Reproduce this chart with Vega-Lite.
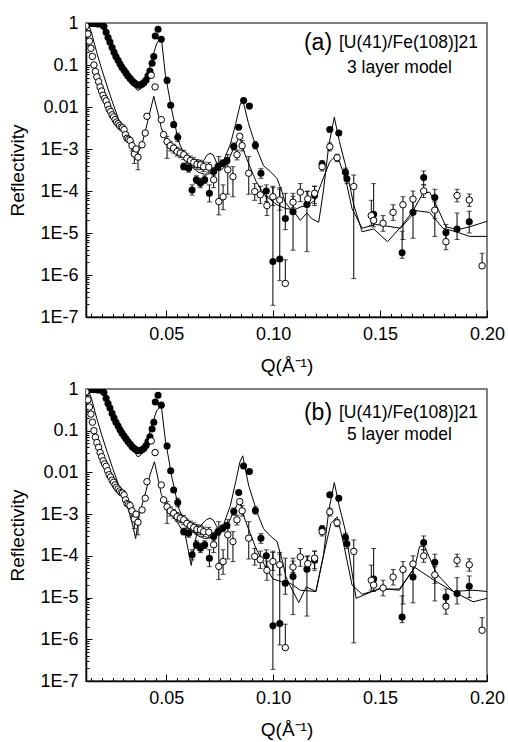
{
"$schema": "https://vega.github.io/schema/vega-lite/v6.json",
"padding": {"left": 8, "top": 13, "right": 0, "bottom": 0},
"spacing": 3,
"config": {
  "font": "Liberation Sans",
  "view": {"stroke": "#555555", "strokeWidth": 1.5},
  "axis": {"labelFontSize": 18, "titleFontSize": 19, "titleFontWeight": "normal", "labelColor": "black", "titleColor": "black", "domainColor": "black", "tickColor": "black", "grid": false, "domainWidth": 1.5, "tickWidth": 1, "labelFont": "Liberation Sans", "titleFont": "Liberation Sans"},
  "text": {"font": "Liberation Sans"}
},
"datasets": {
"pts": [
{"s":"f","q":0.0125,"r":0.97},{"s":"f","q":0.0134,"r":0.98},{"s":"f","q":0.0144,"r":0.98},{"s":"f","q":0.0153,"r":0.97},{"s":"f","q":0.0162,"r":0.97},{"s":"f","q":0.0172,"r":0.96},{"s":"f","q":0.0181,"r":0.95},{"s":"f","q":0.0191,"r":0.95},{"s":"f","q":0.0200,"r":0.93},{"s":"f","q":0.0209,"r":0.82},{"s":"f","q":0.0219,"r":0.6},{"s":"f","q":0.0228,"r":0.45},{"s":"f","q":0.0237,"r":0.35},{"s":"f","q":0.0247,"r":0.26},{"s":"f","q":0.0256,"r":0.2},{"s":"f","q":0.0265,"r":0.16},{"s":"f","q":0.0275,"r":0.13},{"s":"f","q":0.0284,"r":0.105},{"s":"f","q":0.0293,"r":0.088},{"s":"f","q":0.0303,"r":0.075},{"s":"f","q":0.0312,"r":0.064},{"s":"f","q":0.0321,"r":0.055},{"s":"f","q":0.0331,"r":0.048},{"s":"f","q":0.0340,"r":0.042},{"s":"f","q":0.0349,"r":0.038},{"s":"f","q":0.0359,"r":0.035},{"s":"f","q":0.0368,"r":0.033},{"s":"f","q":0.0378,"r":0.033},{"s":"f","q":0.0387,"r":0.035},{"s":"f","q":0.0396,"r":0.038},{"s":"f","q":0.0406,"r":0.044},{"s":"f","q":0.0415,"r":0.055},{"s":"f","q":0.0424,"r":0.072},{"s":"f","q":0.0434,"r":0.11},{"s":"f","q":0.0442,"r":0.16},{"s":"f","q":0.0449,"r":0.49},{"s":"f","q":0.0462,"r":0.71},{"s":"f","q":0.0477,"r":0.41},{"s":"f","q":0.0504,"r":0.043},{"s":"f","q":0.0521,"r":0.011},{"s":"f","q":0.0535,"r":0.0038},
{"s":"f","q":0.0554,"r":0.0019,"lo":0.0015,"hi":0.0024},
{"s":"f","q":0.0582,"r":0.00038,"lo":0.00032,"hi":0.00046},
{"s":"f","q":0.0605,"r":0.00035,"lo":0.00028,"hi":0.00044},
{"s":"f","q":0.0621,"r":0.000106,"lo":0.00008,"hi":0.00014},
{"s":"f","q":0.0641,"r":0.000185,"lo":0.00015,"hi":0.00023},
{"s":"f","q":0.0660,"r":0.000153,"lo":0.00012,"hi":0.0002},
{"s":"f","q":0.0680,"r":0.000185,"lo":0.00015,"hi":0.00023},
{"s":"f","q":0.0702,"r":0.000088,"lo":0.000055,"hi":0.00014},
{"s":"f","q":0.0722,"r":0.00029,"lo":0.00023,"hi":0.00036},
{"s":"f","q":0.0742,"r":0.00038,"lo":0.00031,"hi":0.00046},
{"s":"f","q":0.0764,"r":0.00046,"lo":0.00038,"hi":0.00055},
{"s":"f","q":0.0784,"r":0.00053,"lo":0.00045,"hi":0.00062},
{"s":"f","q":0.0816,"r":0.00115,"lo":0.00095,"hi":0.0014},
{"s":"f","q":0.0839,"r":0.0033},
{"s":"f","q":0.0862,"r":0.0142},
{"s":"f","q":0.0889,"r":0.0105},
{"s":"f","q":0.0917,"r":0.00122,"lo":0.001,"hi":0.0015},
{"s":"f","q":0.0943,"r":0.000265,"lo":0.0002,"hi":0.00034},
{"s":"f","q":0.0968,"r":0.0001,"lo":0.000056,"hi":0.00014},
{"s":"f","q":0.0999,"r":0.0000021,"lo":0.00000019,"hi":0.00013},
{"s":"f","q":0.1031,"r":0.0000024,"lo":0.00000073,"hi":0.00012},
{"s":"f","q":0.1057,"r":0.000022,"lo":0.000012,"hi":0.000088},
{"s":"f","q":0.1093,"r":0.000032,"lo":0.0000039,"hi":0.000088},
{"s":"f","q":0.1158,"r":0.000048,"lo":0.0000036,"hi":0.000097},
{"s":"f","q":0.1194,"r":0.000078,"lo":0.000045,"hi":0.00013},
{"s":"f","q":0.1229,"r":0.00044,"lo":0.00036,"hi":0.00053},
{"s":"f","q":0.1265,"r":0.0029},
{"s":"f","q":0.1307,"r":0.0024},
{"s":"f","q":0.1338,"r":0.00028,"lo":0.00022,"hi":0.00035},
{"s":"f","q":0.1345,"r":0.000195,"lo":0.00015,"hi":0.00025},
{"s":"f","q":0.1470,"r":0.000028,"lo":0.000022,"hi":0.00015},
{"s":"f","q":0.1603,"r":0.0000034,"lo":0.0000025,"hi":0.000011},
{"s":"f","q":0.1654,"r":0.000031,"lo":0.0000075,"hi":0.000056},
{"s":"f","q":0.1704,"r":0.00021,"lo":0.00014,"hi":0.0003},
{"s":"f","q":0.1756,"r":0.00007,"lo":0.0000083,"hi":0.00011},
{"s":"f","q":0.1808,"r":0.0000103,"lo":0.0000065,"hi":0.000016},
{"s":"f","q":0.1860,"r":0.0000125,"lo":0.000007,"hi":0.00003},
{"s":"f","q":0.1917,"r":0.0000186,"lo":0.00001,"hi":0.000033},
{"s":"o","q":0.0125,"r":0.85},{"s":"o","q":0.0134,"r":0.55},{"s":"o","q":0.0141,"r":0.37},{"s":"o","q":0.0148,"r":0.25},{"s":"o","q":0.0155,"r":0.16},{"s":"o","q":0.0162,"r":0.1},{"s":"o","q":0.0169,"r":0.07},{"s":"o","q":0.0176,"r":0.052},{"s":"o","q":0.0184,"r":0.04},{"s":"o","q":0.0191,"r":0.03},{"s":"o","q":0.0198,"r":0.024},{"s":"o","q":0.0205,"r":0.019},{"s":"o","q":0.0212,"r":0.016},{"s":"o","q":0.0219,"r":0.014},{"s":"o","q":0.0226,"r":0.011},{"s":"o","q":0.0233,"r":0.0088},{"s":"o","q":0.0240,"r":0.0078},{"s":"o","q":0.0247,"r":0.0065},{"s":"o","q":0.0254,"r":0.0058},{"s":"o","q":0.0261,"r":0.005},{"s":"o","q":0.0268,"r":0.0044},{"s":"o","q":0.0275,"r":0.004},{"s":"o","q":0.0282,"r":0.0036},{"s":"o","q":0.0289,"r":0.0033},{"s":"o","q":0.0296,"r":0.0032},{"s":"o","q":0.0303,"r":0.0029},{"s":"o","q":0.0310,"r":0.0022},{"s":"o","q":0.0317,"r":0.0018},{"s":"o","q":0.0324,"r":0.0017},{"s":"o","q":0.0331,"r":0.0016},
{"s":"o","q":0.0340,"r":0.0012,"lo":0.0009,"hi":0.0015},
{"s":"o","q":0.0351,"r":0.00076,"lo":0.00045,"hi":0.0011},
{"s":"o","q":0.0359,"r":0.001},
{"s":"o","q":0.0368,"r":0.00064,"lo":0.00032,"hi":0.00105},
{"s":"o","q":0.0387,"r":0.00126},
{"s":"o","q":0.0402,"r":0.0024},
{"s":"o","q":0.0410,"r":0.006},
{"s":"o","q":0.0430,"r":0.057},
{"s":"o","q":0.0448,"r":0.03},
{"s":"o","q":0.0477,"r":0.005},
{"s":"o","q":0.0488,"r":0.0022},
{"s":"o","q":0.0504,"r":0.0015,"lo":0.0006,"hi":0.002},
{"s":"o","q":0.0519,"r":0.0012,"lo":0.0009,"hi":0.0015},
{"s":"o","q":0.0535,"r":0.00105,"lo":0.0008,"hi":0.0013},
{"s":"o","q":0.0551,"r":0.00087,"lo":0.00068,"hi":0.0011},
{"s":"o","q":0.0566,"r":0.0008,"lo":0.00062,"hi":0.001},
{"s":"o","q":0.0582,"r":0.00073,"lo":0.00056,"hi":0.00093},
{"s":"o","q":0.0597,"r":0.0006,"lo":0.00046,"hi":0.00077},
{"s":"o","q":0.0613,"r":0.00053,"lo":0.0004,"hi":0.00068},
{"s":"o","q":0.0629,"r":0.00048,"lo":0.00036,"hi":0.00062},
{"s":"o","q":0.0644,"r":0.00043,"lo":0.00033,"hi":0.00056},
{"s":"o","q":0.0660,"r":0.00042,"lo":0.00032,"hi":0.00054},
{"s":"o","q":0.0675,"r":0.00038,"lo":0.00029,"hi":0.00049},
{"s":"o","q":0.0699,"r":0.00037,"lo":0.00028,"hi":0.00048},
{"s":"o","q":0.0722,"r":0.000185,"lo":0.00012,"hi":0.00028},
{"s":"o","q":0.0746,"r":0.000056,"lo":0.000027,"hi":0.00066},
{"s":"o","q":0.0766,"r":0.000073,"lo":0.000036,"hi":0.00014},
{"s":"o","q":0.0788,"r":0.00032,"lo":0.000084,"hi":0.00074},
{"s":"o","q":0.0812,"r":0.00022,"lo":0.000073,"hi":0.00038},
{"s":"o","q":0.0831,"r":0.00073,"lo":0.00055,"hi":0.00095},
{"s":"o","q":0.0844,"r":0.002},
{"s":"o","q":0.0855,"r":0.0012,"lo":0.0009,"hi":0.0016},
{"s":"o","q":0.0886,"r":0.000265,"lo":0.000084,"hi":0.00066},
{"s":"o","q":0.0914,"r":0.000097,"lo":0.00006,"hi":0.00015},
{"s":"o","q":0.0940,"r":0.000081,"lo":0.00005,"hi":0.00013},
{"s":"o","q":0.0971,"r":0.000045,"lo":0.000026,"hi":0.000075},
{"s":"o","q":0.0999,"r":0.000073,"lo":0.000045,"hi":0.00012},
{"s":"o","q":0.1031,"r":0.000061,"lo":0.000035,"hi":0.00011},
{"s":"o","q":0.1057,"r":0.00000063,"lo":0.00000063,"hi":0.0000023},
{"s":"o","q":0.1093,"r":0.000054,"lo":0.00004,"hi":0.000075},
{"s":"o","q":0.1127,"r":0.000094,"lo":0.000056,"hi":0.00015},
{"s":"o","q":0.1162,"r":0.000065,"lo":0.000045,"hi":0.0001},
{"s":"o","q":0.1194,"r":0.000088,"lo":0.00005,"hi":0.00013},
{"s":"o","q":0.1229,"r":0.00038,"lo":0.0003,"hi":0.00048},
{"s":"o","q":0.1265,"r":0.00113,"lo":0.0009,"hi":0.0014},
{"s":"o","q":0.1299,"r":0.00062,"lo":0.0005,"hi":0.00075},
{"s":"o","q":0.1377,"r":0.000128,"lo":0.00000082,"hi":0.00024},
{"s":"o","q":0.1459,"r":0.000026,"lo":0.000015,"hi":0.00006},
{"s":"o","q":0.1470,"r":0.00002,"lo":0.000014,"hi":0.000028},
{"s":"o","q":0.1514,"r":0.000017,"lo":0.000011,"hi":0.000026},
{"s":"o","q":0.1561,"r":0.000031,"lo":0.00002,"hi":0.000047},
{"s":"o","q":0.1607,"r":0.000047,"lo":0.000007,"hi":0.000073},
{"s":"o","q":0.1654,"r":0.000064,"lo":0.000032,"hi":0.0001},
{"s":"o","q":0.1704,"r":0.0001,"lo":0.00007,"hi":0.00014},
{"s":"o","q":0.1756,"r":0.000035,"lo":0.000022,"hi":0.000055},
{"s":"o","q":0.1808,"r":0.0000062,"lo":0.000004,"hi":0.000009},
{"s":"o","q":0.1860,"r":0.000078,"lo":0.000055,"hi":0.00011},
{"s":"o","q":0.1917,"r":0.000061,"lo":0.000043,"hi":0.000085},
{"s":"o","q":0.1977,"r":0.00000165,"lo":0.00000165,"hi":0.0000033}
],
"fits": [
{"p":"a","s":"f","q":0.0125,"r":1},{"p":"a","s":"f","q":0.0205,"r":1},{"p":"a","s":"f","q":0.0215,"r":0.8},{"p":"a","s":"f","q":0.0235,"r":0.35},{"p":"a","s":"f","q":0.0255,"r":0.18},{"p":"a","s":"f","q":0.0275,"r":0.11},{"p":"a","s":"f","q":0.0295,"r":0.075},{"p":"a","s":"f","q":0.0315,"r":0.052},{"p":"a","s":"f","q":0.0335,"r":0.038},{"p":"a","s":"f","q":0.0355,"r":0.029},{"p":"a","s":"f","q":0.0365,"r":0.025},{"p":"a","s":"f","q":0.0378,"r":0.026},{"p":"a","s":"f","q":0.0395,"r":0.033},{"p":"a","s":"f","q":0.041,"r":0.05},{"p":"a","s":"f","q":0.043,"r":0.12},{"p":"a","s":"f","q":0.0455,"r":0.32},{"p":"a","s":"f","q":0.0477,"r":0.46},{"p":"a","s":"f","q":0.0496,"r":0.059},{"p":"a","s":"f","q":0.0527,"r":0.008},{"p":"a","s":"f","q":0.0558,"r":0.0015},{"p":"a","s":"f","q":0.0589,"r":0.00066},{"p":"a","s":"f","q":0.062,"r":0.00038},{"p":"a","s":"f","q":0.065,"r":0.00028},{"p":"a","s":"f","q":0.068,"r":0.00025},{"p":"a","s":"f","q":0.071,"r":0.00026},{"p":"a","s":"f","q":0.074,"r":0.00032},{"p":"a","s":"f","q":0.077,"r":0.00055},{"p":"a","s":"f","q":0.08,"r":0.0013},{"p":"a","s":"f","q":0.0825,"r":0.004},{"p":"a","s":"f","q":0.0845,"r":0.011},{"p":"a","s":"f","q":0.0858,"r":0.015},{"p":"a","s":"f","q":0.0885,"r":0.004},{"p":"a","s":"f","q":0.0925,"r":0.00096},{"p":"a","s":"f","q":0.0955,"r":0.0004},{"p":"a","s":"f","q":0.0987,"r":0.00029},{"p":"a","s":"f","q":0.1018,"r":0.0002},{"p":"a","s":"f","q":0.104,"r":0.0001},{"p":"a","s":"f","q":0.1055,"r":0.000055},{"p":"a","s":"f","q":0.108,"r":0.000038},{"p":"a","s":"f","q":0.1096,"r":0.000033},{"p":"a","s":"f","q":0.1127,"r":0.00002},{"p":"a","s":"f","q":0.1158,"r":0.00003},{"p":"a","s":"f","q":0.118,"r":0.000022},{"p":"a","s":"f","q":0.1213,"r":0.000018},{"p":"a","s":"f","q":0.1235,"r":0.0001},{"p":"a","s":"f","q":0.126,"r":0.0012},{"p":"a","s":"f","q":0.1286,"r":0.0057},{"p":"a","s":"f","q":0.131,"r":0.0015},{"p":"a","s":"f","q":0.1338,"r":0.00042},{"p":"a","s":"f","q":0.1377,"r":0.000047},{"p":"a","s":"f","q":0.1416,"r":0.0000107},{"p":"a","s":"f","q":0.147,"r":0.0000125},{"p":"a","s":"f","q":0.1535,"r":0.0000062},{"p":"a","s":"f","q":0.1597,"r":0.000014},{"p":"a","s":"f","q":0.1651,"r":0.000032},{"p":"a","s":"f","q":0.17,"r":0.000088},{"p":"a","s":"f","q":0.1732,"r":0.000094},{"p":"a","s":"f","q":0.1762,"r":0.000047},{"p":"a","s":"f","q":0.1809,"r":0.000014},{"p":"a","s":"f","q":0.1864,"r":0.000012},{"p":"a","s":"f","q":0.1918,"r":0.000014},{"p":"a","s":"f","q":0.2,"r":0.000019},
{"p":"a","s":"o","q":0.0125,"r":1},{"p":"a","s":"o","q":0.0135,"r":1},{"p":"a","s":"o","q":0.015,"r":0.6},{"p":"a","s":"o","q":0.0175,"r":0.2},{"p":"a","s":"o","q":0.02,"r":0.075},{"p":"a","s":"o","q":0.0225,"r":0.03},{"p":"a","s":"o","q":0.025,"r":0.0125},{"p":"a","s":"o","q":0.0275,"r":0.0055},{"p":"a","s":"o","q":0.03,"r":0.0027},{"p":"a","s":"o","q":0.0325,"r":0.0015},{"p":"a","s":"o","q":0.035,"r":0.0009},{"p":"a","s":"o","q":0.0363,"r":0.00075},{"p":"a","s":"o","q":0.0385,"r":0.0012},{"p":"a","s":"o","q":0.0405,"r":0.003},{"p":"a","s":"o","q":0.0425,"r":0.008},{"p":"a","s":"o","q":0.0442,"r":0.018},{"p":"a","s":"o","q":0.0465,"r":0.006},{"p":"a","s":"o","q":0.0477,"r":0.0032},{"p":"a","s":"o","q":0.0504,"r":0.0014},{"p":"a","s":"o","q":0.053,"r":0.001},{"p":"a","s":"o","q":0.056,"r":0.00075},{"p":"a","s":"o","q":0.06,"r":0.00055},{"p":"a","s":"o","q":0.064,"r":0.00045},{"p":"a","s":"o","q":0.0665,"r":0.00045},{"p":"a","s":"o","q":0.0678,"r":0.00056},{"p":"a","s":"o","q":0.069,"r":0.00071},{"p":"a","s":"o","q":0.0705,"r":0.00079},{"p":"a","s":"o","q":0.072,"r":0.00072},{"p":"a","s":"o","q":0.0735,"r":0.00048},{"p":"a","s":"o","q":0.0753,"r":0.00031},{"p":"a","s":"o","q":0.078,"r":0.0004},{"p":"a","s":"o","q":0.081,"r":0.0009},{"p":"a","s":"o","q":0.0843,"r":0.002},{"p":"a","s":"o","q":0.0866,"r":0.0008},{"p":"a","s":"o","q":0.0888,"r":0.00042},{"p":"a","s":"o","q":0.092,"r":0.00017},{"p":"a","s":"o","q":0.096,"r":0.00008},{"p":"a","s":"o","q":0.1018,"r":0.000047},{"p":"a","s":"o","q":0.106,"r":0.000038},{"p":"a","s":"o","q":0.11,"r":0.000036},{"p":"a","s":"o","q":0.113,"r":0.000042},{"p":"a","s":"o","q":0.116,"r":0.000045},{"p":"a","s":"o","q":0.1195,"r":0.00006},{"p":"a","s":"o","q":0.1225,"r":0.00015},{"p":"a","s":"o","q":0.1265,"r":0.0005},{"p":"a","s":"o","q":0.1299,"r":0.00073},{"p":"a","s":"o","q":0.1325,"r":0.0003},{"p":"a","s":"o","q":0.1338,"r":0.0002},{"p":"a","s":"o","q":0.1369,"r":0.000038},{"p":"a","s":"o","q":0.1416,"r":0.000013},{"p":"a","s":"o","q":0.1479,"r":0.000016},{"p":"a","s":"o","q":0.1596,"r":0.000013},{"p":"a","s":"o","q":0.1668,"r":0.000034},{"p":"a","s":"o","q":0.1731,"r":0.000031},{"p":"a","s":"o","q":0.1794,"r":0.000013},{"p":"a","s":"o","q":0.1856,"r":0.0000107},{"p":"a","s":"o","q":0.1918,"r":0.0000083},{"p":"a","s":"o","q":0.2,"r":0.0000083},
{"p":"b","s":"f","q":0.0125,"r":1},{"p":"b","s":"f","q":0.0205,"r":1},{"p":"b","s":"f","q":0.0215,"r":0.8},{"p":"b","s":"f","q":0.0235,"r":0.35},{"p":"b","s":"f","q":0.0255,"r":0.18},{"p":"b","s":"f","q":0.0275,"r":0.11},{"p":"b","s":"f","q":0.0295,"r":0.075},{"p":"b","s":"f","q":0.0315,"r":0.052},{"p":"b","s":"f","q":0.0335,"r":0.038},{"p":"b","s":"f","q":0.0355,"r":0.029},{"p":"b","s":"f","q":0.0365,"r":0.024},{"p":"b","s":"f","q":0.0378,"r":0.025},{"p":"b","s":"f","q":0.0395,"r":0.033},{"p":"b","s":"f","q":0.041,"r":0.05},{"p":"b","s":"f","q":0.043,"r":0.12},{"p":"b","s":"f","q":0.0455,"r":0.3},{"p":"b","s":"f","q":0.0477,"r":0.4},{"p":"b","s":"f","q":0.0496,"r":0.06},{"p":"b","s":"f","q":0.0527,"r":0.0075},{"p":"b","s":"f","q":0.0558,"r":0.0014},{"p":"b","s":"f","q":0.0589,"r":0.0006},{"p":"b","s":"f","q":0.062,"r":0.0004},{"p":"b","s":"f","q":0.065,"r":0.0003},{"p":"b","s":"f","q":0.068,"r":0.00026},{"p":"b","s":"f","q":0.071,"r":0.00027},{"p":"b","s":"f","q":0.074,"r":0.00034},{"p":"b","s":"f","q":0.077,"r":0.0006},{"p":"b","s":"f","q":0.08,"r":0.0016},{"p":"b","s":"f","q":0.0825,"r":0.006},{"p":"b","s":"f","q":0.0845,"r":0.018},{"p":"b","s":"f","q":0.0858,"r":0.025},{"p":"b","s":"f","q":0.0885,"r":0.005},{"p":"b","s":"f","q":0.0925,"r":0.0011},{"p":"b","s":"f","q":0.0955,"r":0.00045},{"p":"b","s":"f","q":0.0987,"r":0.0003},{"p":"b","s":"f","q":0.1018,"r":0.00022},{"p":"b","s":"f","q":0.1045,"r":0.00007},{"p":"b","s":"f","q":0.106,"r":0.000031},{"p":"b","s":"f","q":0.109,"r":0.000015},{"p":"b","s":"f","q":0.112,"r":0.0000076},{"p":"b","s":"f","q":0.1155,"r":0.000018},{"p":"b","s":"f","q":0.12,"r":0.000014},{"p":"b","s":"f","q":0.1235,"r":0.0001},{"p":"b","s":"f","q":0.126,"r":0.0012},{"p":"b","s":"f","q":0.1286,"r":0.0057},{"p":"b","s":"f","q":0.131,"r":0.0015},{"p":"b","s":"f","q":0.1338,"r":0.0004},{"p":"b","s":"f","q":0.1388,"r":0.0000096},{"p":"b","s":"f","q":0.1498,"r":0.0000166},{"p":"b","s":"f","q":0.159,"r":0.000015},{"p":"b","s":"f","q":0.1662,"r":0.000053},{"p":"b","s":"f","q":0.1685,"r":0.00017},{"p":"b","s":"f","q":0.1708,"r":0.00017},{"p":"b","s":"f","q":0.1763,"r":0.000038},{"p":"b","s":"f","q":0.1842,"r":0.000014},{"p":"b","s":"f","q":0.1935,"r":0.0000079},{"p":"b","s":"f","q":0.2,"r":0.0000096},
{"p":"b","s":"o","q":0.0125,"r":1},{"p":"b","s":"o","q":0.0135,"r":1},{"p":"b","s":"o","q":0.015,"r":0.6},{"p":"b","s":"o","q":0.0175,"r":0.2},{"p":"b","s":"o","q":0.02,"r":0.075},{"p":"b","s":"o","q":0.0225,"r":0.03},{"p":"b","s":"o","q":0.025,"r":0.0125},{"p":"b","s":"o","q":0.0275,"r":0.0055},{"p":"b","s":"o","q":0.03,"r":0.0025},{"p":"b","s":"o","q":0.0325,"r":0.0012},{"p":"b","s":"o","q":0.0345,"r":0.0005},{"p":"b","s":"o","q":0.0357,"r":0.00026},{"p":"b","s":"o","q":0.0375,"r":0.001},{"p":"b","s":"o","q":0.0405,"r":0.0035},{"p":"b","s":"o","q":0.0425,"r":0.009},{"p":"b","s":"o","q":0.0445,"r":0.018},{"p":"b","s":"o","q":0.0465,"r":0.006},{"p":"b","s":"o","q":0.0477,"r":0.003},{"p":"b","s":"o","q":0.0504,"r":0.0014},{"p":"b","s":"o","q":0.053,"r":0.0009},{"p":"b","s":"o","q":0.056,"r":0.00055},{"p":"b","s":"o","q":0.059,"r":0.0003},{"p":"b","s":"o","q":0.0617,"r":0.000059},{"p":"b","s":"o","q":0.0645,"r":0.0004},{"p":"b","s":"o","q":0.0668,"r":0.00058},{"p":"b","s":"o","q":0.0688,"r":0.00074},{"p":"b","s":"o","q":0.0705,"r":0.0008},{"p":"b","s":"o","q":0.072,"r":0.00072},{"p":"b","s":"o","q":0.0735,"r":0.00052},{"p":"b","s":"o","q":0.0753,"r":0.00035},{"p":"b","s":"o","q":0.078,"r":0.00045},{"p":"b","s":"o","q":0.081,"r":0.001},{"p":"b","s":"o","q":0.0843,"r":0.0022},{"p":"b","s":"o","q":0.0866,"r":0.0008},{"p":"b","s":"o","q":0.0888,"r":0.0004},{"p":"b","s":"o","q":0.092,"r":0.00015},{"p":"b","s":"o","q":0.096,"r":0.00006},{"p":"b","s":"o","q":0.0999,"r":0.000028},{"p":"b","s":"o","q":0.104,"r":0.000024},{"p":"b","s":"o","q":0.108,"r":0.000022},{"p":"b","s":"o","q":0.1127,"r":0.000015},{"p":"b","s":"o","q":0.12,"r":0.000014},{"p":"b","s":"o","q":0.1235,"r":0.0001},{"p":"b","s":"o","q":0.127,"r":0.0006},{"p":"b","s":"o","q":0.1299,"r":0.00086},{"p":"b","s":"o","q":0.1325,"r":0.00025},{"p":"b","s":"o","q":0.1369,"r":0.00002},{"p":"b","s":"o","q":0.1416,"r":0.000012},{"p":"b","s":"o","q":0.1498,"r":0.000016},{"p":"b","s":"o","q":0.159,"r":0.000016},{"p":"b","s":"o","q":0.1662,"r":0.000053},{"p":"b","s":"o","q":0.1753,"r":0.000026},{"p":"b","s":"o","q":0.1842,"r":0.000014},{"p":"b","s":"o","q":0.1935,"r":0.000015},{"p":"b","s":"o","q":0.2,"r":0.000014}
]
},
"vconcat": [
{
"width": 401, "height": 294,
"resolve": {"axis": {"x": "independent", "y": "independent"}},
"layer": [
{"data": {"name": "fits"}, "transform": [{"filter": "datum.p == 'a'"}],
 "mark": {"type": "line", "color": "black", "strokeWidth": 1, "clip": true},
 "encoding": {
  "x": {"field": "q", "type": "quantitative", "scale": {"domain": [0.0125, 0.2], "nice": false, "zero": false},
        "axis": {"orient": "bottom", "values": [0.05, 0.1, 0.15, 0.2], "format": ".2f", "tickSize": -7, "labelPadding": 15, "title": "Q(Å⁻¹)", "titlePadding": 13, "labelFlush": false, "labelOverlap": false}},
  "y": {"field": "r", "type": "quantitative", "scale": {"type": "log", "domain": [1e-7, 1], "nice": false},
        "axis": {"orient": "left", "values": [1e-7, 1e-6, 1e-5, 1e-4, 0.001, 0.01, 0.1, 1], "labelExpr": "datum.value == 1 ? '1' : datum.value == 0.1 ? '0.1' : datum.value == 0.01 ? '0.01' : '1E-' + round(-log(datum.value)/LN10)", "tickSize": -6, "labelPadding": 14, "title": "Reflectivity", "titlePadding": 12, "labelFlush": false, "labelOverlap": false}},
  "detail": {"field": "s"}
 }},
{"data": {"name": "pts"}, "mark": {"type": "point", "opacity": 0},
 "encoding": {
  "x": {"field": "q", "type": "quantitative", "axis": {"orient": "bottom", "values": [0.015,0.02,0.025,0.03,0.035,0.04,0.045,0.055,0.06,0.065,0.07,0.075,0.08,0.085,0.09,0.095,0.105,0.11,0.115,0.12,0.125,0.13,0.135,0.14,0.145,0.155,0.16,0.165,0.17,0.175,0.18,0.185,0.19,0.195], "tickSize": -3.5, "labels": false, "domain": false, "title": null}},
  "y": {"field": "r", "type": "quantitative", "axis": {"orient": "left", "values": [2e-7,3e-7,4e-7,5e-7,6e-7,7e-7,8e-7,9e-7,2e-6,3e-6,4e-6,5e-6,6e-6,7e-6,8e-6,9e-6,2e-5,3e-5,4e-5,5e-5,6e-5,7e-5,8e-5,9e-5,2e-4,3e-4,4e-4,5e-4,6e-4,7e-4,8e-4,9e-4,0.002,0.003,0.004,0.005,0.006,0.007,0.008,0.009,0.02,0.03,0.04,0.05,0.06,0.07,0.08,0.09,0.2,0.3,0.4,0.5,0.6,0.7,0.8,0.9], "tickSize": -3, "labels": false, "domain": false, "title": null}}
 }},
{"data": {"name": "pts"}, "transform": [{"filter": "isValid(datum.lo)"}],
 "mark": {"type": "errorbar", "ticks": true, "color": "black"},
 "encoding": {"x": {"field": "q", "type": "quantitative", "axis": null}, "y": {"field": "lo", "type": "quantitative", "axis": null}, "y2": {"field": "hi"}}},
{"data": {"name": "pts"}, "transform": [{"filter": "datum.s == 'f'"}],
 "mark": {"type": "circle", "color": "black", "size": 50, "opacity": 1, "clip": true},
 "encoding": {"x": {"field": "q", "type": "quantitative", "axis": null}, "y": {"field": "r", "type": "quantitative", "axis": null}}},
{"data": {"name": "pts"}, "transform": [{"filter": "datum.s == 'o'"}],
 "mark": {"type": "point", "shape": "circle", "filled": true, "fill": "white", "stroke": "black", "strokeWidth": 1, "size": 42, "opacity": 1, "clip": true},
 "encoding": {"x": {"field": "q", "type": "quantitative", "axis": null}, "y": {"field": "r", "type": "quantitative", "axis": null}}},
{"data": {"values": [{"t": "(a)"}]}, "mark": {"type": "text", "fontSize": 23, "align": "left", "baseline": "middle"},
 "encoding": {"text": {"field": "t"}, "x": {"datum": 0.1144, "type": "quantitative", "axis": null}, "y": {"datum": 0.333, "type": "quantitative", "axis": null}}},
{"data": {"values": [{"t": "[U(41)/Fe(108)]21"}]}, "mark": {"type": "text", "fontSize": 17.5, "align": "left", "baseline": "middle"},
 "encoding": {"text": {"field": "t"}, "x": {"datum": 0.1308, "type": "quantitative", "axis": null}, "y": {"datum": 0.333, "type": "quantitative", "axis": null}}},
{"data": {"values": [{"t": "3 layer model"}]}, "mark": {"type": "text", "fontSize": 17.5, "align": "left", "baseline": "middle"},
 "encoding": {"text": {"field": "t"}, "x": {"datum": 0.1345, "type": "quantitative", "axis": null}, "y": {"datum": 0.0839, "type": "quantitative", "axis": null}}}
]
},
{
"width": 401, "height": 292,
"resolve": {"axis": {"x": "independent", "y": "independent"}},
"layer": [
{"data": {"name": "fits"}, "transform": [{"filter": "datum.p == 'b'"}],
 "mark": {"type": "line", "color": "black", "strokeWidth": 1, "clip": true},
 "encoding": {
  "x": {"field": "q", "type": "quantitative", "scale": {"domain": [0.0125, 0.2], "nice": false, "zero": false},
        "axis": {"orient": "bottom", "values": [0.05, 0.1, 0.15, 0.2], "format": ".2f", "tickSize": -7, "labelPadding": 15, "title": "Q(Å⁻¹)", "titlePadding": 13, "labelFlush": false, "labelOverlap": false}},
  "y": {"field": "r", "type": "quantitative", "scale": {"type": "log", "domain": [1e-7, 1], "nice": false},
        "axis": {"orient": "left", "values": [1e-7, 1e-6, 1e-5, 1e-4, 0.001, 0.01, 0.1, 1], "labelExpr": "datum.value == 1 ? '1' : datum.value == 0.1 ? '0.1' : datum.value == 0.01 ? '0.01' : '1E-' + round(-log(datum.value)/LN10)", "tickSize": -6, "labelPadding": 14, "title": "Reflectivity", "titlePadding": 12, "labelFlush": false, "labelOverlap": false}},
  "detail": {"field": "s"}
 }},
{"data": {"name": "pts"}, "mark": {"type": "point", "opacity": 0},
 "encoding": {
  "x": {"field": "q", "type": "quantitative", "axis": {"orient": "bottom", "values": [0.015,0.02,0.025,0.03,0.035,0.04,0.045,0.055,0.06,0.065,0.07,0.075,0.08,0.085,0.09,0.095,0.105,0.11,0.115,0.12,0.125,0.13,0.135,0.14,0.145,0.155,0.16,0.165,0.17,0.175,0.18,0.185,0.19,0.195], "tickSize": -3.5, "labels": false, "domain": false, "title": null}},
  "y": {"field": "r", "type": "quantitative", "axis": {"orient": "left", "values": [2e-7,3e-7,4e-7,5e-7,6e-7,7e-7,8e-7,9e-7,2e-6,3e-6,4e-6,5e-6,6e-6,7e-6,8e-6,9e-6,2e-5,3e-5,4e-5,5e-5,6e-5,7e-5,8e-5,9e-5,2e-4,3e-4,4e-4,5e-4,6e-4,7e-4,8e-4,9e-4,0.002,0.003,0.004,0.005,0.006,0.007,0.008,0.009,0.02,0.03,0.04,0.05,0.06,0.07,0.08,0.09,0.2,0.3,0.4,0.5,0.6,0.7,0.8,0.9], "tickSize": -3, "labels": false, "domain": false, "title": null}}
 }},
{"data": {"name": "pts"}, "transform": [{"filter": "isValid(datum.lo)"}],
 "mark": {"type": "errorbar", "ticks": true, "color": "black"},
 "encoding": {"x": {"field": "q", "type": "quantitative", "axis": null}, "y": {"field": "lo", "type": "quantitative", "axis": null}, "y2": {"field": "hi"}}},
{"data": {"name": "pts"}, "transform": [{"filter": "datum.s == 'f'"}],
 "mark": {"type": "circle", "color": "black", "size": 50, "opacity": 1, "clip": true},
 "encoding": {"x": {"field": "q", "type": "quantitative", "axis": null}, "y": {"field": "r", "type": "quantitative", "axis": null}}},
{"data": {"name": "pts"}, "transform": [{"filter": "datum.s == 'o'"}],
 "mark": {"type": "point", "shape": "circle", "filled": true, "fill": "white", "stroke": "black", "strokeWidth": 1, "size": 42, "opacity": 1, "clip": true},
 "encoding": {"x": {"field": "q", "type": "quantitative", "axis": null}, "y": {"field": "r", "type": "quantitative", "axis": null}}},
{"data": {"values": [{"t": "(b)"}]}, "mark": {"type": "text", "fontSize": 23, "align": "left", "baseline": "middle"},
 "encoding": {"text": {"field": "t"}, "x": {"datum": 0.1144, "type": "quantitative", "axis": null}, "y": {"datum": 0.273, "type": "quantitative", "axis": null}}},
{"data": {"values": [{"t": "[U(41)/Fe(108)]21"}]}, "mark": {"type": "text", "fontSize": 17.5, "align": "left", "baseline": "middle"},
 "encoding": {"text": {"field": "t"}, "x": {"datum": 0.1308, "type": "quantitative", "axis": null}, "y": {"datum": 0.273, "type": "quantitative", "axis": null}}},
{"data": {"values": [{"t": "5 layer model"}]}, "mark": {"type": "text", "fontSize": 17.5, "align": "left", "baseline": "middle"},
 "encoding": {"text": {"field": "t"}, "x": {"datum": 0.1345, "type": "quantitative", "axis": null}, "y": {"datum": 0.0788, "type": "quantitative", "axis": null}}}
]
}
]
}
